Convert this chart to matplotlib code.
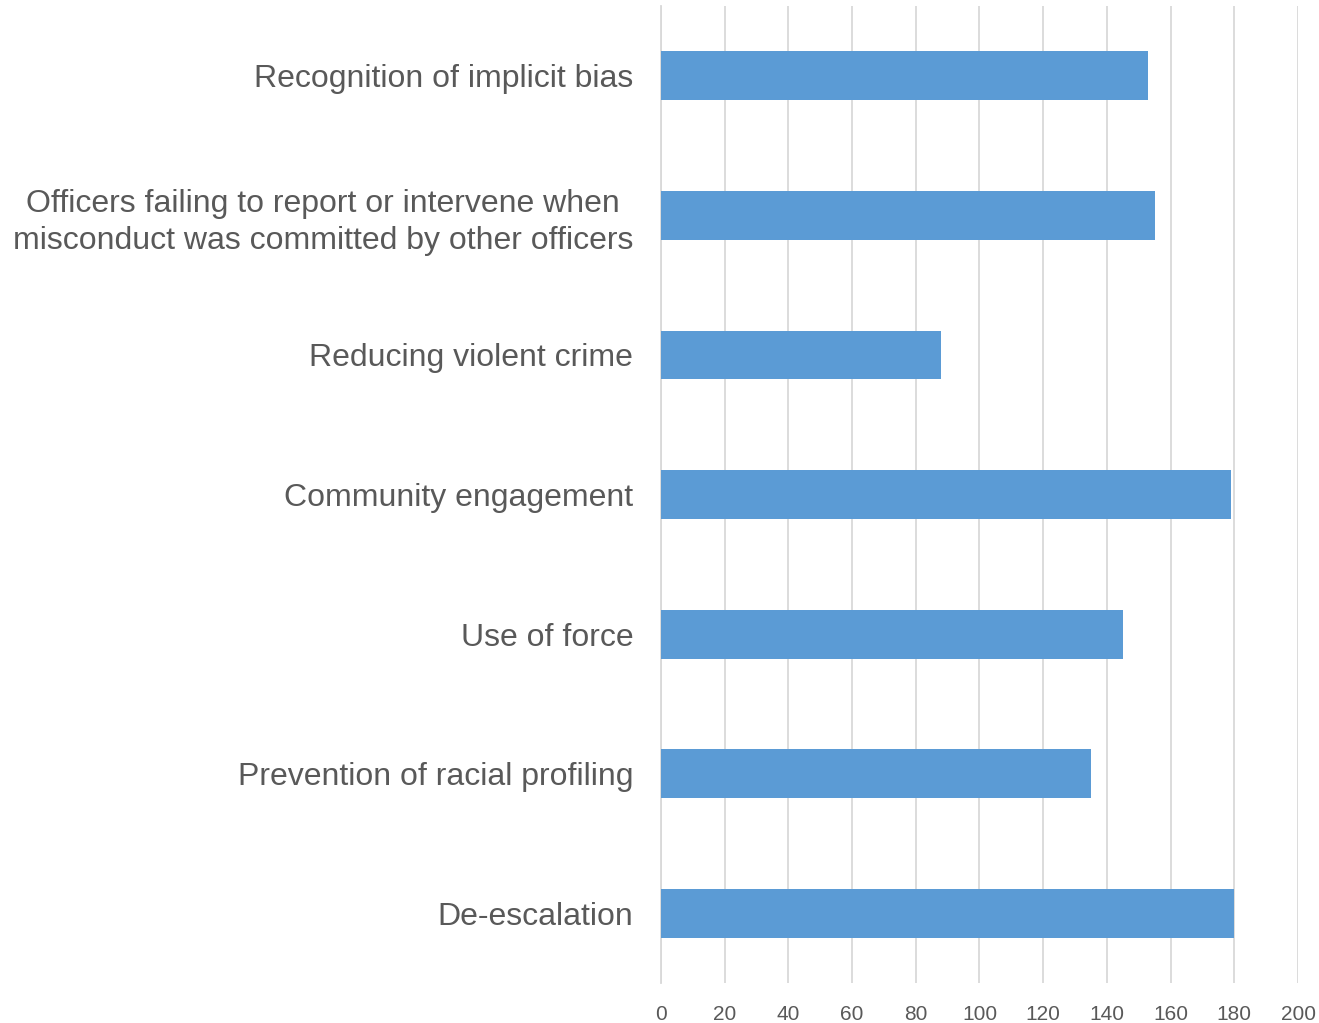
import matplotlib
matplotlib.use("Agg")
import matplotlib.pyplot as plt
from matplotlib import font_manager

categories = [
    "Recognition of implicit bias",
    "Officers failing to report or intervene when\nmisconduct was committed by other officers",
    "Reducing violent crime",
    "Community engagement",
    "Use of force",
    "Prevention of racial profiling",
    "De-escalation",
]
values = [153, 155, 88, 179, 145, 135, 180]
xticks = [0, 20, 40, 60, 80, 100, 120, 140, 160, 180, 200]

names = {f.name for f in font_manager.fontManager.ttflist}
tick_font = "Liberation Sans Narrow" if "Liberation Sans Narrow" in names else "Liberation Sans"

text_color = "#595959"
grid_color = "#D9D9D9"

fig = plt.figure(figsize=(13.19, 10.23), dpi=100)
ax = fig.add_axes([0.5011, 0.0391, 0.4830, 0.9550])

pos = list(range(len(categories)))[::-1]
ax.barh(pos, values, height=0.35, color="#5B9BD5", zorder=3)

ax.set_xlim(0, 200)
ax.set_ylim(-0.5, len(categories) - 0.5)
ax.set_xticks(xticks)
ax.set_xticklabels([str(t) for t in xticks], fontfamily=tick_font, fontsize=15, color=text_color)
ax.set_yticks(pos)
ax.set_yticklabels(categories, fontfamily="Liberation Sans", fontsize=23, color=text_color,
                   linespacing=1.32, ha="right")
ax.tick_params(axis="both", length=0)
ax.tick_params(axis="y", pad=20)
ax.tick_params(axis="x", pad=16)
for lbl in ax.get_yticklabels():
    lbl.set_multialignment("center")

ax.xaxis.grid(True, color=grid_color, linewidth=1.3, zorder=0)
for side in ["top", "right", "bottom"]:
    ax.spines[side].set_visible(False)
ax.spines["left"].set_color(grid_color)
ax.spines["left"].set_linewidth(1.3)

fig.savefig("out.png", dpi=100)
